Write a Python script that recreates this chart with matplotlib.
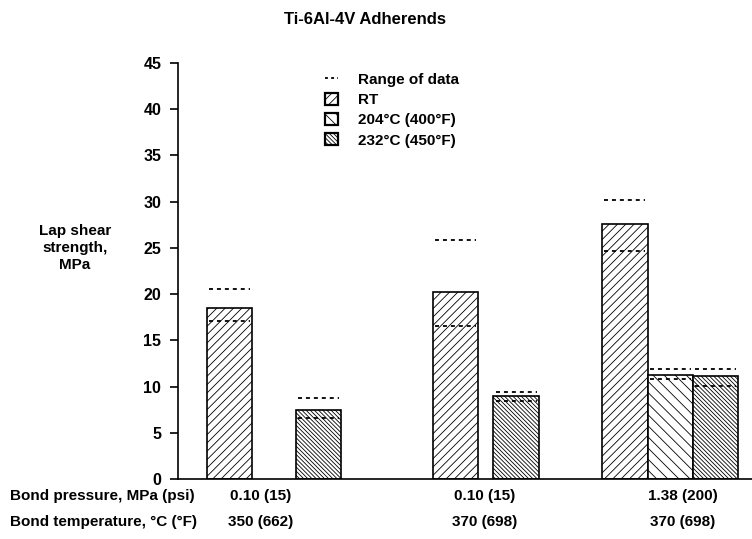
import numpy as np
import matplotlib
matplotlib.use("Agg")
import matplotlib.pyplot as plt
from matplotlib.patches import Patch
from matplotlib.lines import Line2D

plt.rcParams['font.family'] = ['Liberation Sans', 'DejaVu Sans']
plt.rcParams['hatch.linewidth'] = 0.6

# data
series = ['RT', '204°C (400°F)', '232°C (450°F)']
# one row per bar: (group index, series index)
bar_group = [0, 0, 1, 1, 2, 2, 2]
bar_series = [0, 2, 0, 2, 0, 1, 2]
strength = [18.5, 7.5, 20.2, 9.0, 27.6, 11.3, 11.1]
range_low = [17.1, 6.6, 16.6, 8.4, 24.7, 10.8, 10.1]
range_high = [20.6, 8.8, 25.8, 9.4, 30.2, 11.9, 11.9]
pressure_labels = ['0.10 (15)', '0.10 (15)', '1.38 (200)']
temperature_labels = ['350 (662)', '370 (698)', '370 (698)']
yticks = [0, 5, 10, 15, 20, 25, 30, 35, 40, 45]

# layout: bar slot centres (in bar widths) and label centres
slot_x = [1.13, 3.09, 6.10, 7.43, 9.82, 10.82, 11.81]
label_x = [1.82, 6.73, 11.1]
hatches = ['////', '\\\\\\', '\\\\\\\\\\\\\\\\']
fs = 11

fig = plt.figure(figsize=(7.52, 5.39), dpi=100)
ax = fig.add_axes([178 / 752, 60 / 539, 1 - 178 / 752, 416 / 539])

for i in range(len(strength)):
    s = bar_series[i]
    ax.bar(slot_x[i], strength[i], width=1.0, facecolor='white',
           edgecolor='black', linewidth=1.2, hatch=hatches[s])
    for v in (range_low[i], range_high[i]):
        ax.hlines(v, slot_x[i] - 0.45, slot_x[i] + 0.45, colors='black',
                  linewidth=1.3, linestyles=(0, (2.2, 2.2)))

ax.set_xlim(0, (752 - 178) / 45.5)
ax.set_ylim(0, 45)
ax.set_yticks(yticks)
ax.set_xticks([])
ax.spines['top'].set_visible(False)
ax.spines['right'].set_visible(False)
ax.spines['left'].set_linewidth(1.2)
ax.spines['bottom'].set_linewidth(1.2)
ax.tick_params(axis='y', direction='out', length=6, width=1.2, pad=6,
               labelsize=11.5)
for t in ax.get_yticklabels():
    t.set_fontweight('bold')

fig.text(365 / 752, 1 - 20 / 539, 'Ti-6Al-4V Adherends', ha='center',
         va='center', fontsize=12, fontweight='bold')
fig.text(75 / 752, 1 - 248 / 539, 'Lap shear\nstrength,\nMPa', ha='center',
         va='center', fontsize=fs, fontweight='bold', linespacing=1.3)

fig.text(10 / 752, 1 - 496 / 539, 'Bond pressure, MPa (psi)', ha='left',
         va='center', fontsize=fs, fontweight='bold')
fig.text(10 / 752, 1 - 522 / 539, 'Bond temperature, °C (°F)', ha='left',
         va='center', fontsize=fs, fontweight='bold')
for g in range(len(pressure_labels)):
    xd = ax.transData.transform((label_x[g], 0))[0] / fig.bbox.width
    fig.text(xd, 1 - 496 / 539, pressure_labels[g], ha='center',
             va='center', fontsize=fs, fontweight='bold')
    fig.text(xd, 1 - 522 / 539, temperature_labels[g], ha='center',
             va='center', fontsize=fs, fontweight='bold')

handles = [Line2D([0], [0], color='black', linewidth=1.3,
                  linestyle=(0, (1.6, 1.8)))]
for s in range(len(series)):
    handles.append(Patch(facecolor='white', edgecolor='black',
                         linewidth=1.6, hatch=hatches[s]))
labels = ['Range of data'] + series
leg = ax.legend(handles, labels, loc='upper left',
                bbox_to_anchor=(0.233, 1.01), frameon=False,
                handlelength=0.8, handleheight=0.8, handletextpad=1.3,
                labelspacing=0.4, prop={'size': fs, 'weight': 'bold'})

fig.savefig('out.png', dpi=100)
